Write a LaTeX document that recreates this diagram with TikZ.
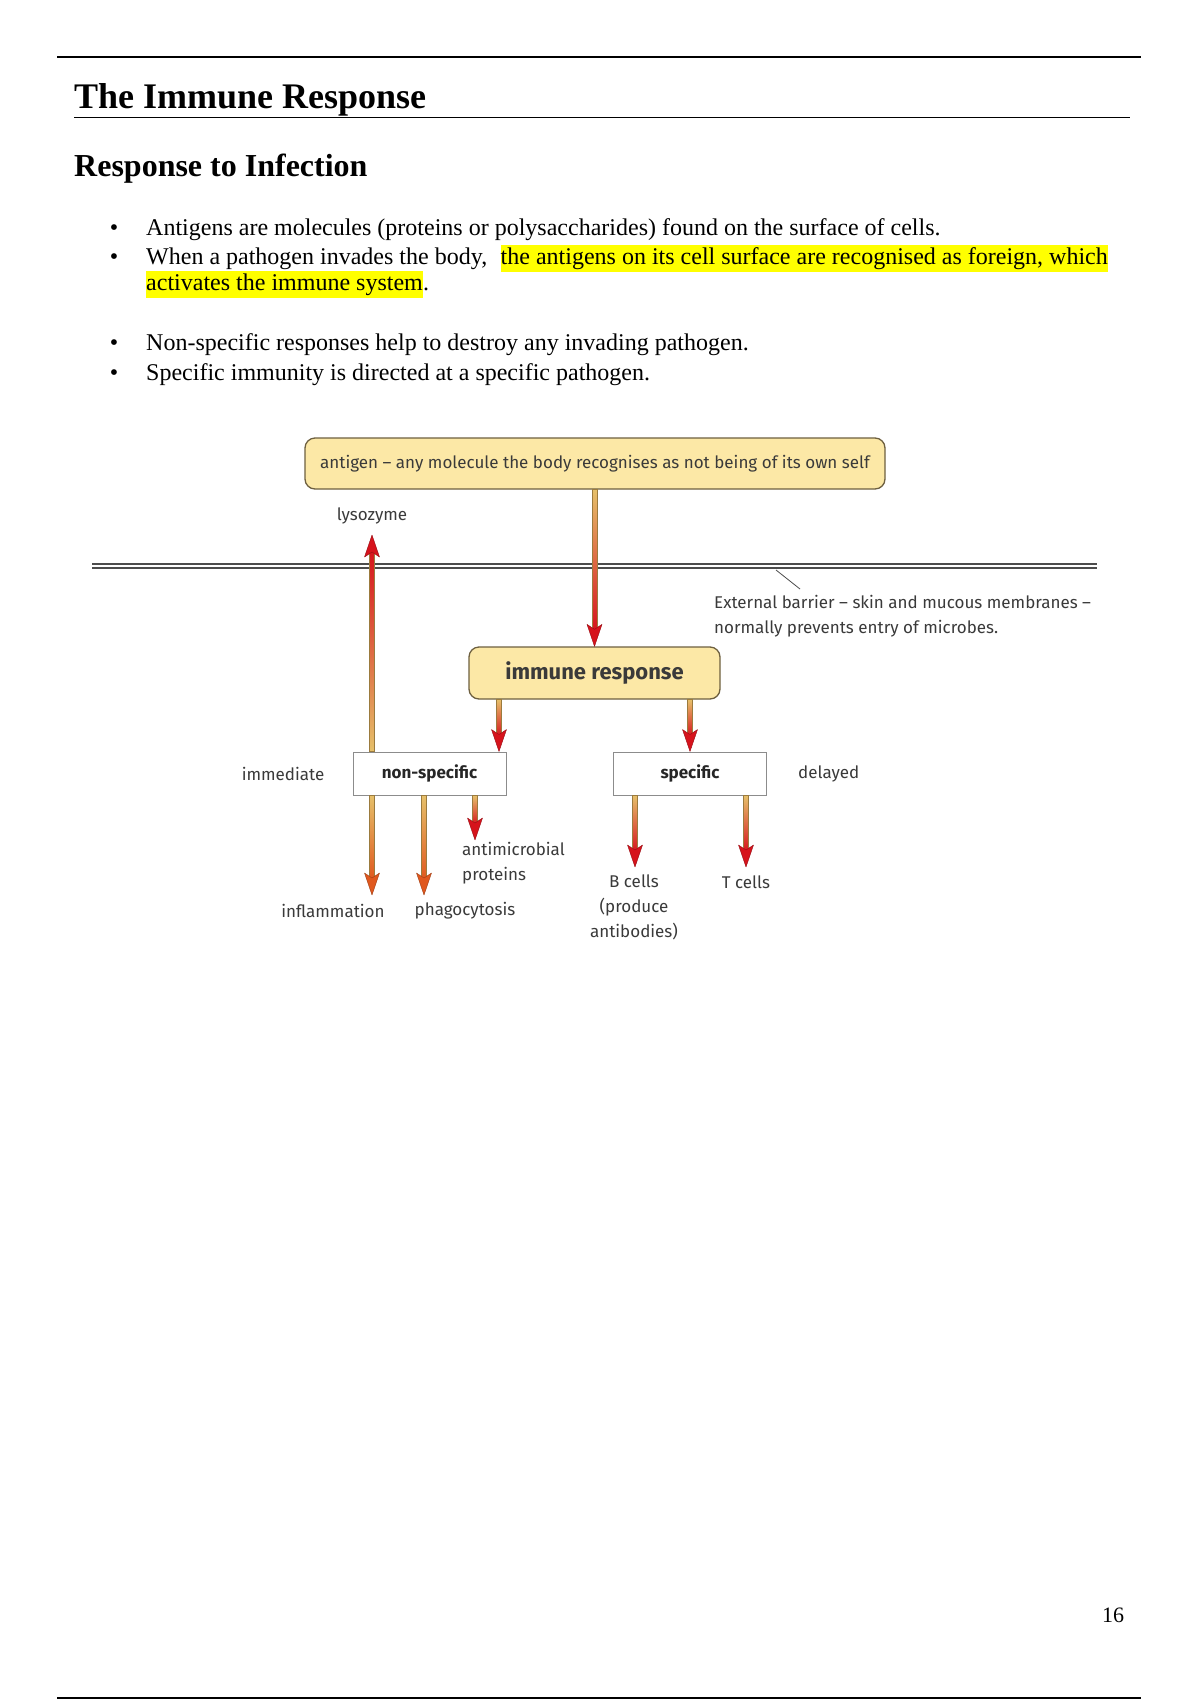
\documentclass[tikz,border=0pt]{standalone}
\usepackage{fontspec}
\setmainfont{Liberation Serif}
\newfontfamily\diafont{Fira Sans}
\usetikzlibrary{positioning,calc}
\definecolor{cbox}{HTML}{FCE8A6}
\definecolor{cboxline}{HTML}{6E6040}
\definecolor{ctan}{HTML}{E6C06A}
\definecolor{cred}{HTML}{D6131C}
\definecolor{corg}{HTML}{E0581E}
\definecolor{cedge}{HTML}{9B7B3E}
\definecolor{ctxt}{HTML}{3A3A3A}
\definecolor{cgrey}{HTML}{8C8C8C}
\definecolor{hl}{HTML}{FFFF00}
\tikzset{
  body/.style={anchor=base west, inner sep=0pt, font=\fontsize{24}{28}\selectfont},
  bul/.style={anchor=base, inner sep=0pt, font=\fontsize{24}{28}\selectfont},
  hlbox/.style={body, fill=hl, text height=18pt, text depth=6.5pt, inner ysep=1.5pt},
  abox/.style={rectangle, rounded corners=10pt, draw=cboxline, fill=cbox, line width=1.3pt,
               minimum height=51pt, text=ctxt, font=\diafont\fontsize{17}{25}\selectfont},
  rbox/.style={rectangle, draw=cgrey, fill=white, line width=1pt, minimum width=153pt,
               minimum height=43pt, text=black!85, font=\diafont\bfseries\fontsize{17}{25}\selectfont},
  lbl/.style={inner sep=1pt, text=ctxt, font=\diafont\fontsize{17}{25}\selectfont},
  barrier/.style={draw=black!70, line width=1.5pt, double=white, double distance=2.2pt}
}
% shaded arrows: [head colour]{tail}{tip}
\newcommand{\flowdown}[3][cred]{%
  \shade[top color=ctan, bottom color=#1, draw=cedge, line width=0.5pt]
    ($(#2)+(-2.5,0)$) rectangle ($(#3)+(2.5,-15)$);
  \filldraw[fill=#1, draw=#1!70!black, line width=0.4pt, line join=round]
    (#3) -- ++(-7.5,-22) -- ++(7.5,5) -- ++(7.5,-5) -- cycle;}
\newcommand{\flowup}[3][cred]{%
  \shade[bottom color=ctan, top color=#1, draw=cedge, line width=0.5pt]
    ($(#2)+(-2.5,0)$) rectangle ($(#3)+(2.5,15)$);
  \filldraw[fill=#1, draw=#1!70!black, line width=0.4pt, line join=round]
    (#3) -- ++(-7.5,22) -- ++(7.5,-5) -- ++(7.5,5) -- cycle;}

\begin{document}
\begin{tikzpicture}[x=1pt, y=-1pt]
\fill[white] (0,0) rectangle (1200,1700);
\useasboundingbox (0,0) rectangle (1200,1700);

% page head
\draw[line width=2pt] (57,57) -- (1141,57);
\node[anchor=base west, inner sep=0pt, font=\bfseries\fontsize{36}{40}\selectfont] (title) at (74,108) {The Immune Response};
\draw[line width=1.6pt] (74,117.5) -- (1130,117.5);
\node[anchor=base west, inner sep=0pt, font=\bfseries\fontsize{32}{36}\selectfont] (sub) at (74,176) {Response to Infection};

% bullets
\foreach \y/\n in {235/1,264/2,350/4,380/5}
  \node[bul] (b\n) at (114,\y) {•};
\node[body] (l1) at (146,235) {Antigens are molecules (proteins or polysaccharides) found on the surface of cells.};
\node[body] (l2a) at (146,264) {When a pathogen invades the body,};
\node[hlbox, anchor=base east] (l2b) at (1108,264) {the antigens on its cell surface are recognised as foreign, which};
\node[hlbox] (l3a) at (146,290) {activates the immune system};
\node[body] (l3b) at (l3a.base east) {.};
\node[body] (l4) at (146,350) {Non-specific responses help to destroy any invading pathogen.};
\node[body] (l5) at (146,380) {Specific immunity is directed at a specific pathogen.};

% diagram
\node[abox, minimum width=580pt] (antigen) at (595,463.5) {antigen – any molecule the body recognises as not being of its own self};
\node[lbl] (lyso) at (372,516) {lysozyme};
\coordinate (barW) at (92,566);
\coordinate (barE) at (1097,566);
\draw[barrier] (barW) -- (barE);
\coordinate (ptr) at (776,570);
\coordinate (ptrend) at (800,589);
\draw[black!70, line width=0.8pt] (ptr) -- (ptrend);
\node[lbl, anchor=west, align=left] (extnote) at (713,616.5) {External barrier – skin and mucous membranes –\\normally prevents entry of microbes.};

\node[abox, minimum width=251pt, minimum height=52pt, font=\diafont\bfseries\fontsize{22}{26}\selectfont] (immune) at (594.5,673) {immune response};
\node[rbox] (nonspec) at (429.5,773.5) {non-specific};
\node[rbox] (spec) at (690,773.5) {specific};
\node[lbl, left=27pt of nonspec] (immed) {immediate};
\node[lbl, right=30pt of spec] (delay) {delayed};

\node[lbl] (inflam) at (333,911) {inflammation};
\node[lbl] (phago) at (465,911) {phagocytosis};
\node[lbl, anchor=west, align=left] (amp) at (461,863.5) {antimicrobial\\proteins};
\node[lbl, align=center] (bcell) at (634,907) {B cells\\(produce\\antibodies)};
\node[lbl] (tcell) at (746,882) {T cells};

% arrow ends
\coordinate (nsin) at ($(nonspec.north)+(69.5,0)$);
\coordinate (irL) at (nsin |- immune.south);
\coordinate (irR) at (spec.north |- immune.south);
\coordinate (lysotip) at (372,535);
\coordinate (lysotail) at (lysotip |- nonspec.north);
\coordinate (inftip) at (372,895);
\coordinate (inftail) at (inftip |- nonspec.south);
\coordinate (phagtip) at (424,895);
\coordinate (phagtail) at (phagtip |- nonspec.south);
\coordinate (amptip) at (475,840);
\coordinate (amptail) at (amptip |- nonspec.south);
\coordinate (bctip) at (635,867);
\coordinate (bctail) at (bctip |- spec.south);
\coordinate (tctip) at (746,867);
\coordinate (tctail) at (tctip |- spec.south);

\flowdown{antigen.south}{immune.north}
\flowdown{irL}{nsin}
\flowdown{irR}{spec.north}
\flowup{lysotail}{lysotip}
\flowdown[corg]{inftail}{inftip}
\flowdown[corg]{phagtail}{phagtip}
\flowdown{amptail}{amptip}
\flowdown{bctail}{bctip}
\flowdown{tctail}{tctip}

% page foot
\node[inner sep=0pt, font=\fontsize{22}{26}\selectfont] (pnum) at (1113,1615) {16};
\draw[line width=2pt] (57,1698) -- (1141,1698);
\end{tikzpicture}
\end{document}
